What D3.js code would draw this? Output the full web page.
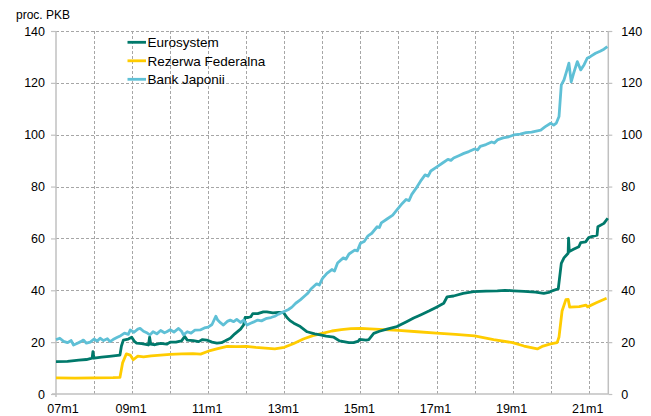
<!DOCTYPE html>
<html>
<head>
<meta charset="utf-8">
<script src="https://cdn.jsdelivr.net/npm/d3@7"></script>
<style>
  html, body { margin: 0; padding: 0; background: #fff; }
  svg { display: block; font-family: "Liberation Sans", Arial, sans-serif; }
</style>
</head>
<body>
<svg id="chart" width="651" height="416"></svg>
<script>
// ---------- DATA ----------
const seriesNames = ["Eurosystem", "Rezerwa Federalna", "Bank Japonii"];
const yTicks = [0, 20, 40, 60, 80, 100, 120, 140];
const xTickYears = [2007, 2009, 2011, 2013, 2015, 2017, 2019, 2021];
const xTickLabels = ["07m1", "09m1", "11m1", "13m1", "15m1", "17m1", "19m1", "21m1"];
const gridYears = [2008, 2009, 2010, 2011, 2012, 2013, 2014, 2015, 2016, 2017, 2018, 2019, 2020, 2021];

// time in fractional years, value in % of GDP
const euroDates = [2007.0, 2007.3, 2007.6, 2007.8, 2007.95, 2007.97, 2008.0, 2008.2, 2008.4, 2008.68, 2008.72, 2008.77, 2008.9, 2008.99, 2009.05, 2009.12, 2009.25, 2009.43, 2009.46, 2009.49, 2009.6, 2009.75, 2009.91, 2010.0, 2010.15, 2010.3, 2010.38, 2010.45, 2010.61, 2010.75, 2010.85, 2010.96, 2011.1, 2011.23, 2011.35, 2011.45, 2011.58, 2011.7, 2011.85, 2011.93, 2011.97, 2012.05, 2012.12, 2012.17, 2012.3, 2012.45, 2012.54, 2012.7, 2012.85, 2012.98, 2013.07, 2013.15, 2013.25, 2013.42, 2013.6, 2013.8, 2013.95, 2014.1, 2014.3, 2014.45, 2014.56, 2014.7, 2014.82, 2014.95, 2014.98, 2015.15, 2015.22, 2015.35, 2015.5, 2015.7, 2015.96, 2016.2, 2016.4, 2016.58, 2016.8, 2017.0, 2017.19, 2017.28, 2017.45, 2017.7, 2017.98, 2018.3, 2018.6, 2018.8, 2019.03, 2019.3, 2019.6, 2019.82, 2019.95, 2020.04, 2020.2, 2020.28, 2020.35, 2020.46, 2020.47, 2020.49, 2020.6, 2020.74, 2020.79, 2020.92, 2021.0, 2021.1, 2021.22, 2021.24, 2021.4, 2021.5];
const euroValues = [12.5, 12.6, 13.1, 13.3, 13.8, 16.3, 13.8, 14.2, 14.5, 15.0, 18.5, 20.8, 21.2, 21.9, 20.5, 19.6, 19.4, 18.9, 21.9, 19.2, 19.0, 19.5, 19.2, 20.0, 20.0, 20.5, 22.2, 20.8, 20.6, 20.2, 21.0, 20.8, 20.0, 19.6, 19.8, 20.5, 21.5, 23.2, 25.0, 26.6, 29.5, 29.5, 29.8, 31.0, 31.0, 31.7, 31.7, 31.3, 31.5, 31.4, 29.5, 28.3, 27.3, 26.0, 24.0, 23.2, 22.8, 22.3, 21.9, 20.5, 20.2, 19.8, 19.8, 20.4, 21.1, 20.8, 21.0, 23.4, 24.2, 25.0, 26.0, 27.8, 29.3, 30.5, 32.0, 33.5, 35.0, 37.5, 37.8, 38.8, 39.5, 39.7, 39.8, 40.0, 39.8, 39.6, 39.3, 38.8, 39.2, 39.8, 40.6, 50.4, 52.5, 54.3, 60.1, 54.9, 55.8, 56.8, 58.4, 58.7, 60.3, 60.8, 61.3, 64.5, 65.8, 67.8];

const fedDates = [2007.0, 2007.5, 2008.0, 2008.5, 2008.68, 2008.75, 2008.85, 2008.95, 2009.03, 2009.15, 2009.3, 2009.5, 2009.75, 2010.0, 2010.3, 2010.6, 2010.8, 2011.0, 2011.25, 2011.5, 2011.75, 2012.0, 2012.25, 2012.5, 2012.75, 2013.0, 2013.25, 2013.5, 2013.75, 2014.0, 2014.25, 2014.5, 2014.75, 2015.0, 2015.25, 2015.5, 2016.0, 2016.5, 2017.0, 2017.5, 2018.0, 2018.5, 2019.0, 2019.3, 2019.65, 2019.8, 2020.0, 2020.17, 2020.22, 2020.3, 2020.4, 2020.46, 2020.5, 2020.75, 2020.93, 2020.97, 2021.2, 2021.47];
const fedValues = [6.2, 6.1, 6.2, 6.3, 6.4, 12.0, 15.5, 15.0, 13.2, 14.6, 14.3, 14.7, 15.0, 15.3, 15.5, 15.6, 15.4, 16.5, 17.5, 18.4, 18.3, 18.4, 18.0, 17.7, 17.4, 18.0, 19.5, 21.2, 22.5, 23.4, 24.3, 24.8, 25.2, 25.3, 25.1, 24.9, 24.5, 24.0, 23.5, 23.0, 22.4, 21.0, 19.8, 18.5, 17.4, 18.5, 19.3, 19.8, 22.0, 32.0, 36.4, 36.5, 33.5, 33.7, 34.3, 33.6, 35.2, 36.9];

const bojDates = [2007.0, 2007.1, 2007.2, 2007.3, 2007.4, 2007.46, 2007.55, 2007.65, 2007.72, 2007.8, 2007.9, 2008.0, 2008.08, 2008.16, 2008.25, 2008.35, 2008.42, 2008.5, 2008.6, 2008.7, 2008.8, 2008.9, 2008.95, 2009.05, 2009.15, 2009.21, 2009.3, 2009.4, 2009.47, 2009.55, 2009.65, 2009.75, 2009.85, 2009.91, 2010.0, 2010.1, 2010.22, 2010.3, 2010.35, 2010.45, 2010.55, 2010.65, 2010.79, 2010.9, 2011.0, 2011.1, 2011.2, 2011.25, 2011.32, 2011.4, 2011.5, 2011.58, 2011.67, 2011.75, 2011.85, 2011.93, 2012.02, 2012.1, 2012.2, 2012.3, 2012.4, 2012.54, 2012.65, 2012.75, 2012.85, 2012.98, 2013.1, 2013.2, 2013.3, 2013.42, 2013.55, 2013.62, 2013.7, 2013.85, 2013.92, 2014.0, 2014.12, 2014.25, 2014.32, 2014.4, 2014.55, 2014.62, 2014.7, 2014.85, 2014.92, 2015.0, 2015.1, 2015.2, 2015.3, 2015.44, 2015.5, 2015.55, 2015.7, 2015.85, 2015.96, 2016.1, 2016.2, 2016.28, 2016.35, 2016.49, 2016.6, 2016.7, 2016.78, 2016.85, 2017.02, 2017.15, 2017.3, 2017.38, 2017.45, 2017.6, 2017.72, 2017.85, 2018.0, 2018.08, 2018.15, 2018.3, 2018.45, 2018.52, 2018.6, 2018.75, 2018.9, 2019.03, 2019.2, 2019.35, 2019.5, 2019.65, 2019.74, 2019.85, 2020.0, 2020.08, 2020.15, 2020.22, 2020.28, 2020.35, 2020.42, 2020.48, 2020.54, 2020.6, 2020.7, 2020.79, 2020.88, 2020.96, 2021.05, 2021.18, 2021.3, 2021.4, 2021.49];
const bojValues = [21.0, 21.5, 20.3, 19.8, 20.6, 18.9, 19.5, 20.2, 20.8, 19.6, 20.0, 21.2, 20.4, 21.5, 20.6, 21.3, 20.2, 21.0, 21.8, 22.5, 23.5, 23.0, 24.7, 23.8, 25.0, 25.3, 24.2, 23.5, 22.8, 24.0, 23.2, 24.5, 23.6, 24.0, 24.8, 23.9, 25.3, 24.2, 22.8, 24.0, 23.5, 24.6, 24.7, 25.5, 25.8, 26.8, 30.0, 28.5, 27.5, 26.6, 28.0, 28.5, 27.9, 28.8, 27.6, 28.5, 26.6, 27.2, 27.8, 28.5, 28.2, 29.2, 29.5, 30.0, 30.8, 31.7, 32.5, 33.5, 35.0, 36.3, 38.0, 38.9, 40.5, 42.5, 42.0, 44.5, 46.5, 48.0, 47.4, 50.5, 52.5, 52.0, 54.0, 55.5, 55.2, 58.1, 58.8, 61.0, 62.0, 64.5, 64.2, 66.0, 67.5, 69.0, 71.0, 73.5, 75.0, 74.6, 77.0, 79.9, 82.5, 84.5, 84.0, 86.0, 87.7, 89.0, 90.5, 90.1, 91.0, 92.0, 92.8, 93.5, 94.5, 94.1, 95.5, 96.2, 97.2, 96.8, 98.0, 98.8, 99.2, 99.9, 100.2, 100.8, 101.0, 101.5, 101.8, 103.0, 104.4, 103.7, 104.5, 107.0, 119.2, 121.1, 124.5, 127.6, 120.4, 123.5, 128.2, 125.0, 127.0, 129.5, 130.2, 131.4, 132.2, 133.0, 134.0];

const seriesColors = ["#00796b", "#ffcc00", "#5fc0d6"];

// ---------- LAYOUT ----------
const svg = d3.select("#chart");
const mLeft = 56, mRight = 608.3, mTop = 31, mBottom = 394;

const x = d3.scaleLinear().domain([2007, 2021.515]).range([mLeft, mRight]);
const y = d3.scaleLinear().domain([0, 140]).range([mBottom, mTop]);

// gridlines
const grid = svg.append("g").attr("stroke", "#a6a6a6").attr("stroke-width", 1).attr("stroke-dasharray", "3,2");
grid.selectAll("line.h").data(yTicks.filter(d => d > 0)).join("line").attr("class", "h")
  .attr("x1", mLeft).attr("x2", mRight)
  .attr("y1", d => Math.round(y(d)) + 0.5).attr("y2", d => Math.round(y(d)) + 0.5);
grid.selectAll("line.v").data(gridYears).join("line").attr("class", "v")
  .attr("x1", d => Math.round(x(d)) + 0.5).attr("x2", d => Math.round(x(d)) + 0.5)
  .attr("y1", mTop).attr("y2", mBottom);

// axes
const axisColor = "#c0c0c0";
const leftAxis = svg.append("g").attr("transform", `translate(${mLeft},0)`)
  .call(d3.axisLeft(y).tickValues(yTicks).tickSize(5).tickPadding(6));
const rightAxis = svg.append("g").attr("transform", `translate(${mRight},0)`)
  .call(d3.axisRight(y).tickValues(yTicks).tickSize(4).tickPadding(9));
const bottomAxis = svg.append("g").attr("transform", `translate(0,${mBottom})`)
  .call(d3.axisBottom(x).tickValues(xTickYears).tickSize(0).tickPadding(10)
    .tickFormat((d, i) => xTickLabels[i]));

[leftAxis, rightAxis, bottomAxis].forEach(g => {
  g.select(".domain").attr("stroke", axisColor).attr("stroke-width", 1.5);
  g.selectAll(".tick line").attr("stroke", axisColor).attr("stroke-width", 1.2);
  g.selectAll("text").attr("fill", "#000").attr("font-size", "12.5px")
    .attr("font-family", "'Liberation Sans', Arial, sans-serif");
});
leftAxis.select(".domain").attr("d", `M0,${mTop}V${mBottom + 3}`);
rightAxis.select(".domain").attr("d", `M0,${mTop}V${mBottom}`);
bottomAxis.select(".domain").attr("d", `M${mLeft - 4},0H${mRight}`);
bottomAxis.selectAll(".tick text").attr("dy", "0.71em")
  .attr("dx", (d, i) => i === 0 ? 6.5 : -1.5);

// unit label
svg.append("text").attr("x", 16).attr("y", 19).attr("font-size", "12px").attr("fill", "#000")
  .text("proc. PKB");

// lines
const line = d3.line().x(d => x(d[0])).y(d => y(d[1])).curve(d3.curveLinear);
const seriesData = [
  d3.zip(euroDates, euroValues),
  d3.zip(fedDates, fedValues),
  d3.zip(bojDates, bojValues)
];
const drawOrder = [1, 0, 2];
drawOrder.forEach(i => {
  svg.append("path").datum(seriesData[i])
    .attr("fill", "none").attr("stroke", seriesColors[i])
    .attr("stroke-width", 2.8).attr("stroke-linejoin", "round")
    .attr("d", line);
});

// legend
const legend = svg.append("g").attr("transform", "translate(127.5,42.3)");
const items = legend.selectAll("g").data(seriesNames).join("g")
  .attr("transform", (d, i) => `translate(0,${i * 18.5})`);
items.append("line").attr("x1", 0).attr("x2", 18.5).attr("y1", 0).attr("y2", 0)
  .attr("stroke", (d, i) => seriesColors[i]).attr("stroke-width", 2.8);
items.append("text").attr("x", 20).attr("y", 0).attr("dy", "0.36em")
  .attr("font-size", "13.5px").attr("fill", "#000").text(d => d);
</script>
</body>
</html>
